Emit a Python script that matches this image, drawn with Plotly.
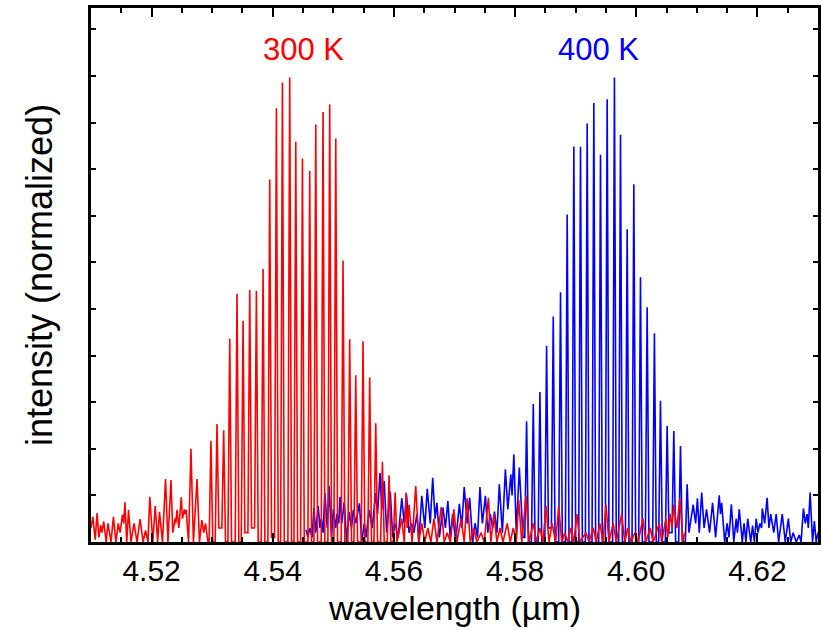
import plotly.graph_objects as go

# 300 K spectrum (wavelength in um, normalized intensity): maxima / minima
red_wl = [
    4.5100, 4.5103, 4.5107, 4.5110, 4.5113, 4.5116, 4.5118, 4.5121, 4.5125, 4.5128,
    4.5133, 4.5137, 4.5141, 4.5145, 4.5148, 4.5152, 4.5154, 4.5156, 4.5159, 4.5162,
    4.5166, 4.5171, 4.5176, 4.5181, 4.5186, 4.5190, 4.5194, 4.5197, 4.5202, 4.5206,
    4.5210, 4.5213, 4.5218, 4.5223, 4.5227, 4.5232, 4.5235, 4.5239, 4.5240, 4.5242,
    4.5245, 4.5249, 4.5251, 4.5254, 4.5255, 4.5257, 4.5261, 4.5265, 4.5269, 4.5275,
    4.5279, 4.5283, 4.5286, 4.5289, 4.5293,
    4.5295, 4.5298, 4.5301, 4.5305, 4.5308, 4.5311, 4.5316, 4.5319, 4.5322, 4.5326,
    4.5329, 4.5332, 4.5338, 4.5341, 4.5344, 4.5348, 4.5351, 4.5354, 4.5359, 4.5362,
    4.5365, 4.5370, 4.5373, 4.5376, 4.5381, 4.5384, 4.5387, 4.5392, 4.5395, 4.5398,
    4.5403, 4.5406, 4.5409, 4.5413, 4.5416, 4.5419, 4.5425, 4.5428, 4.5431, 4.5435,
    4.5438, 4.5441, 4.5446, 4.5449, 4.5452, 4.5458, 4.5461, 4.5464, 4.5468, 4.5471,
    4.5474, 4.5480, 4.5483, 4.5486, 4.5491, 4.5494, 4.5497, 4.5501, 4.5504, 4.5507,
    4.5513, 4.5516, 4.5519, 4.5524, 4.5527, 4.5530, 4.5534, 4.5537, 4.5540, 4.5546,
    4.5549, 4.5552, 4.5557, 4.5560, 4.5563, 4.5567, 4.5570, 4.5573, 4.5578, 4.5581,
    4.5584, 4.5589, 4.5592, 4.5595, 4.5599, 4.5602, 4.5605,
    4.5613, 4.5617, 4.5620, 4.5622, 4.5625, 4.5630, 4.5636,
    4.5641, 4.5646, 4.5651, 4.5656, 4.5661, 4.5666, 4.5671, 4.5678, 4.5683, 4.5688,
    4.5693, 4.5699, 4.5704, 4.5711, 4.5716, 4.5721, 4.5726, 4.5732, 4.5737, 4.5744,
    4.5749, 4.5756, 4.5760, 4.5765, 4.5770, 4.5775, 4.5780, 4.5787, 4.5792, 4.5797,
    4.5802, 4.5806, 4.5811, 4.5818, 4.5823, 4.5830, 4.5835, 4.5841, 4.5846, 4.5851,
    4.5856, 4.5861, 4.5867, 4.5872, 4.5877, 4.5882, 4.5887, 4.5892, 4.5897, 4.5902,
    4.5907, 4.5917, 4.5922, 4.5929, 4.5934, 4.5940, 4.5945, 4.5950, 4.5955, 4.5962,
    4.5967, 4.5976, 4.5981, 4.5986, 4.5991, 4.5998, 4.6003, 4.6011, 4.6016, 4.6023,
    4.6028, 4.6038, 4.6042, 4.6049, 4.6052, 4.6056, 4.6059, 4.6062, 4.6067, 4.6072,
    4.6077, 4.6080,
]
red_int = [
    0.030, 0.054, 0.005, 0.062, 0.010, 0.036, 0.020, 0.044, 0.000, 0.040,
    0.000, 0.054, 0.000, 0.040, 0.020, 0.059, 0.040, 0.085, 0.000, 0.069,
    0.000, 0.040, 0.000, 0.049, 0.000, 0.025, 0.000, 0.097, 0.000, 0.077,
    0.000, 0.065, 0.000, 0.135, 0.000, 0.133, 0.020, 0.051, 0.040, 0.069,
    0.030, 0.096, 0.050, 0.070, 0.060, 0.069, 0.000, 0.200, 0.000, 0.135,
    0.000, 0.047, 0.020, 0.040, 0.000,
    0.000, 0.217, 0.000, 0.000, 0.253, 0.030, 0.030, 0.240, 0.000, 0.000,
    0.436, 0.000, 0.000, 0.533, 0.000, 0.000, 0.475, 0.020, 0.020, 0.541,
    0.030, 0.030, 0.539, 0.000, 0.000, 0.586, 0.000, 0.000, 0.778, 0.010,
    0.010, 0.931, 0.000, 0.000, 0.986, 0.000, 0.000, 0.997, 0.000, 0.000,
    0.859, 0.000, 0.000, 0.823, 0.000, 0.000, 0.796, 0.000, 0.000, 0.896,
    0.000, 0.000, 0.923, 0.000, 0.000, 0.939, 0.000, 0.000, 0.866, 0.000,
    0.000, 0.604, 0.000, 0.000, 0.435, 0.000, 0.000, 0.358, 0.000, 0.000,
    0.431, 0.000, 0.000, 0.353, 0.000, 0.000, 0.255, 0.000, 0.000, 0.172,
    0.000, 0.000, 0.143, 0.000, 0.000, 0.106, 0.000,
    0.050, 0.000, 0.106, 0.030, 0.080, 0.000, 0.120,
    0.000, 0.040, 0.000, 0.030, 0.000, 0.050, 0.000, 0.075, 0.000, 0.020,
    0.000, 0.070, 0.000, 0.050, 0.000, 0.094, 0.000, 0.030, 0.000, 0.020,
    0.000, 0.095, 0.000, 0.060, 0.000, 0.030, 0.000, 0.040, 0.000, 0.030,
    0.000, 0.090, 0.000, 0.099, 0.000, 0.040, 0.000, 0.030, 0.000, 0.077,
    0.000, 0.040, 0.000, 0.077, 0.000, 0.020, 0.000, 0.030, 0.000, 0.060,
    0.000, 0.020, 0.000, 0.030, 0.000, 0.040, 0.000, 0.080, 0.000, 0.040,
    0.000, 0.060, 0.000, 0.030, 0.000, 0.020, 0.000, 0.050, 0.000, 0.030,
    0.000, 0.040, 0.000, 0.050, 0.010, 0.060, 0.030, 0.080, 0.030, 0.094,
    0.000, 0.020,
]

# 400 K spectrum
blue_wl = [
    4.5455, 4.5458, 4.5461, 4.5465, 4.5468, 4.5471, 4.5475, 4.5478, 4.5480, 4.5483,
    4.5486, 4.5490, 4.5493, 4.5497, 4.5500, 4.5504, 4.5506, 4.5509, 4.5511, 4.5514,
    4.5518, 4.5522, 4.5526, 4.5530, 4.5533, 4.5537, 4.5543, 4.5547, 4.5551, 4.5554,
    4.5559, 4.5564, 4.5570, 4.5573, 4.5577, 4.5580, 4.5584, 4.5588, 4.5594, 4.5598,
    4.5602, 4.5607, 4.5613, 4.5617, 4.5621, 4.5625, 4.5629, 4.5633, 4.5638, 4.5641,
    4.5646, 4.5651, 4.5655, 4.5660, 4.5664, 4.5668, 4.5671, 4.5675, 4.5681, 4.5685,
    4.5689, 4.5693, 4.5697, 4.5702, 4.5708, 4.5712, 4.5716, 4.5721, 4.5725, 4.5730,
    4.5734, 4.5738, 4.5742, 4.5746, 4.5751, 4.5755, 4.5759, 4.5763, 4.5766, 4.5770,
    4.5774, 4.5779, 4.5784, 4.5788, 4.5793, 4.5795, 4.5798, 4.5802, 4.5807, 4.5813,
    4.5816, 4.5819, 4.5822, 4.5827, 4.5830, 4.5833, 4.5838, 4.5841, 4.5844, 4.5849,
    4.5852, 4.5855, 4.5860, 4.5863, 4.5866, 4.5872, 4.5875, 4.5878, 4.5883, 4.5886,
    4.5889, 4.5894, 4.5897, 4.5900, 4.5905, 4.5908, 4.5911, 4.5916, 4.5919, 4.5922,
    4.5927, 4.5930, 4.5933, 4.5938, 4.5941, 4.5944, 4.5949, 4.5952, 4.5955, 4.5961,
    4.5964, 4.5967, 4.5971, 4.5974, 4.5977, 4.5982, 4.5985, 4.5988, 4.5993, 4.5996,
    4.5999, 4.6004, 4.6007, 4.6010, 4.6015, 4.6018, 4.6021, 4.6027, 4.6030, 4.6033,
    4.6037, 4.6040, 4.6043, 4.6048, 4.6051, 4.6054, 4.6059, 4.6062, 4.6065, 4.6070,
    4.6073, 4.6076, 4.6081, 4.6084, 4.6087,
    4.6094, 4.6098, 4.6101, 4.6104, 4.6108, 4.6112, 4.6116, 4.6121, 4.6126, 4.6131,
    4.6137, 4.6139, 4.6141, 4.6146, 4.6150, 4.6153, 4.6157, 4.6161, 4.6165, 4.6167,
    4.6170, 4.6175, 4.6178, 4.6181, 4.6184, 4.6189, 4.6192, 4.6195, 4.6198, 4.6201,
    4.6204, 4.6207, 4.6208, 4.6212, 4.6216, 4.6219, 4.6222, 4.6227, 4.6231, 4.6235,
    4.6241, 4.6246, 4.6251, 4.6255, 4.6259, 4.6264, 4.6269, 4.6272, 4.6276, 4.6279,
    4.6282, 4.6284, 4.6287, 4.6291, 4.6294, 4.6297, 4.6300,
]
blue_int = [
    0.026, 0.010, 0.030, 0.010, 0.073, 0.020, 0.077, 0.030, 0.050, 0.020,
    0.105, 0.030, 0.120, 0.010, 0.070, 0.030, 0.060, 0.040, 0.097, 0.040,
    0.086, 0.000, 0.064, 0.030, 0.069, 0.040, 0.083, 0.000, 0.040, 0.010,
    0.069, 0.030, 0.105, 0.060, 0.148, 0.070, 0.131, 0.020, 0.108, 0.010,
    0.040, 0.010, 0.094, 0.040, 0.100, 0.020, 0.040, 0.020, 0.060, 0.000,
    0.099, 0.030, 0.114, 0.040, 0.138, 0.050, 0.084, 0.010, 0.074, 0.030,
    0.088, 0.010, 0.060, 0.000, 0.082, 0.030, 0.118, 0.040, 0.095, 0.000,
    0.040, 0.010, 0.118, 0.040, 0.099, 0.020, 0.060, 0.030, 0.065, 0.020,
    0.124, 0.020, 0.156, 0.070, 0.145, 0.100, 0.188, 0.020, 0.160, 0.010,
    0.010, 0.259, 0.000, 0.000, 0.296, 0.000, 0.000, 0.322, 0.000, 0.000,
    0.421, 0.030, 0.030, 0.484, 0.000, 0.000, 0.536, 0.000, 0.000, 0.703,
    0.000, 0.000, 0.849, 0.000, 0.000, 0.848, 0.000, 0.000, 0.898, 0.000,
    0.000, 0.942, 0.000, 0.000, 0.831, 0.000, 0.000, 0.950, 0.000, 0.000,
    0.997, 0.000, 0.000, 0.874, 0.000, 0.000, 0.671, 0.000, 0.000, 0.768,
    0.000, 0.000, 0.568, 0.000, 0.000, 0.504, 0.000, 0.000, 0.448, 0.000,
    0.000, 0.303, 0.000, 0.000, 0.249, 0.020, 0.020, 0.238, 0.000, 0.000,
    0.206, 0.000, 0.000, 0.124, 0.020,
    0.080, 0.040, 0.094, 0.020, 0.106, 0.030, 0.070, 0.020, 0.084, 0.010,
    0.100, 0.060, 0.084, 0.000, 0.040, 0.010, 0.081, 0.000, 0.050, 0.020,
    0.070, 0.000, 0.040, 0.000, 0.050, 0.000, 0.035, 0.000, 0.050, 0.020,
    0.040, 0.030, 0.072, 0.040, 0.095, 0.030, 0.060, 0.020, 0.060, 0.000,
    0.060, 0.000, 0.050, 0.000, 0.020, 0.000, 0.015, 0.000, 0.072, 0.040,
    0.060, 0.030, 0.106, 0.000, 0.045, 0.000, 0.020,
]

labels = ["300 K", "400 K"]
label_wl = [4.5450, 4.5937]
label_int = [1.056, 1.056]
colors = ["#ff0000", "#0000ff"]

x_ticks = [4.52, 4.54, 4.56, 4.58, 4.60, 4.62]
x_ticktext = ["4.52", "4.54", "4.56", "4.58", "4.60", "4.62"]

FONT = "Liberation Sans, Arial, sans-serif"

fig = go.Figure()
fig.add_trace(go.Scatter(x=blue_wl, y=blue_int, mode="lines",
                         line=dict(color=colors[1], width=1.6), showlegend=False))
fig.add_trace(go.Scatter(x=red_wl, y=red_int, mode="lines",
                         line=dict(color=colors[0], width=1.6), showlegend=False))

for t, xv, yv, c in zip(labels, label_wl, label_int, colors):
    fig.add_annotation(x=xv, y=yv, text=t, showarrow=False,
                       font=dict(family=FONT, size=31, color=c))

# axis titles
fig.add_annotation(xref="paper", yref="paper", x=0.5, y=0, yanchor="middle",
                   yshift=-66, text="wavelength (µm)", showarrow=False,
                   font=dict(family=FONT, size=34, color="black"))
fig.add_annotation(xref="paper", yref="paper", x=0, y=0.5, xanchor="center",
                   xshift=-52, text="intensity (normalized)", textangle=-90,
                   showarrow=False, font=dict(family=FONT, size=36, color="black"))

fig.update_layout(
    width=822, height=630,
    margin=dict(l=91, r=4, t=8, b=88, autoexpand=False),
    paper_bgcolor="white", plot_bgcolor="white",
    font=dict(family=FONT, color="black"),
)
fig.update_xaxes(
    range=[4.51, 4.63], tickvals=x_ticks, ticktext=x_ticktext,
    ticks="inside", ticklen=9, tickwidth=2, tickcolor="black",
    minor=dict(dtick=0.005, tick0=4.51, ticks="inside", ticklen=5, tickwidth=2, tickcolor="black"),
    showline=True, linewidth=3, linecolor="black", mirror="ticks",
    showgrid=False, zeroline=False, automargin=False,
    tickfont=dict(family=FONT, size=30, color="black"),
)
fig.update_yaxes(
    range=[0, 1.146], dtick=0.1, tick0=0, showticklabels=False,
    ticks="inside", ticklen=5, tickwidth=2, tickcolor="black",
    showline=True, linewidth=3, linecolor="black", mirror="ticks",
    showgrid=False, zeroline=False, automargin=False,
)

fig.write_html("out.html", config={"displayModeBar": False},
               post_script="document.body.style.margin='0px';document.body.style.overflow='hidden';")
